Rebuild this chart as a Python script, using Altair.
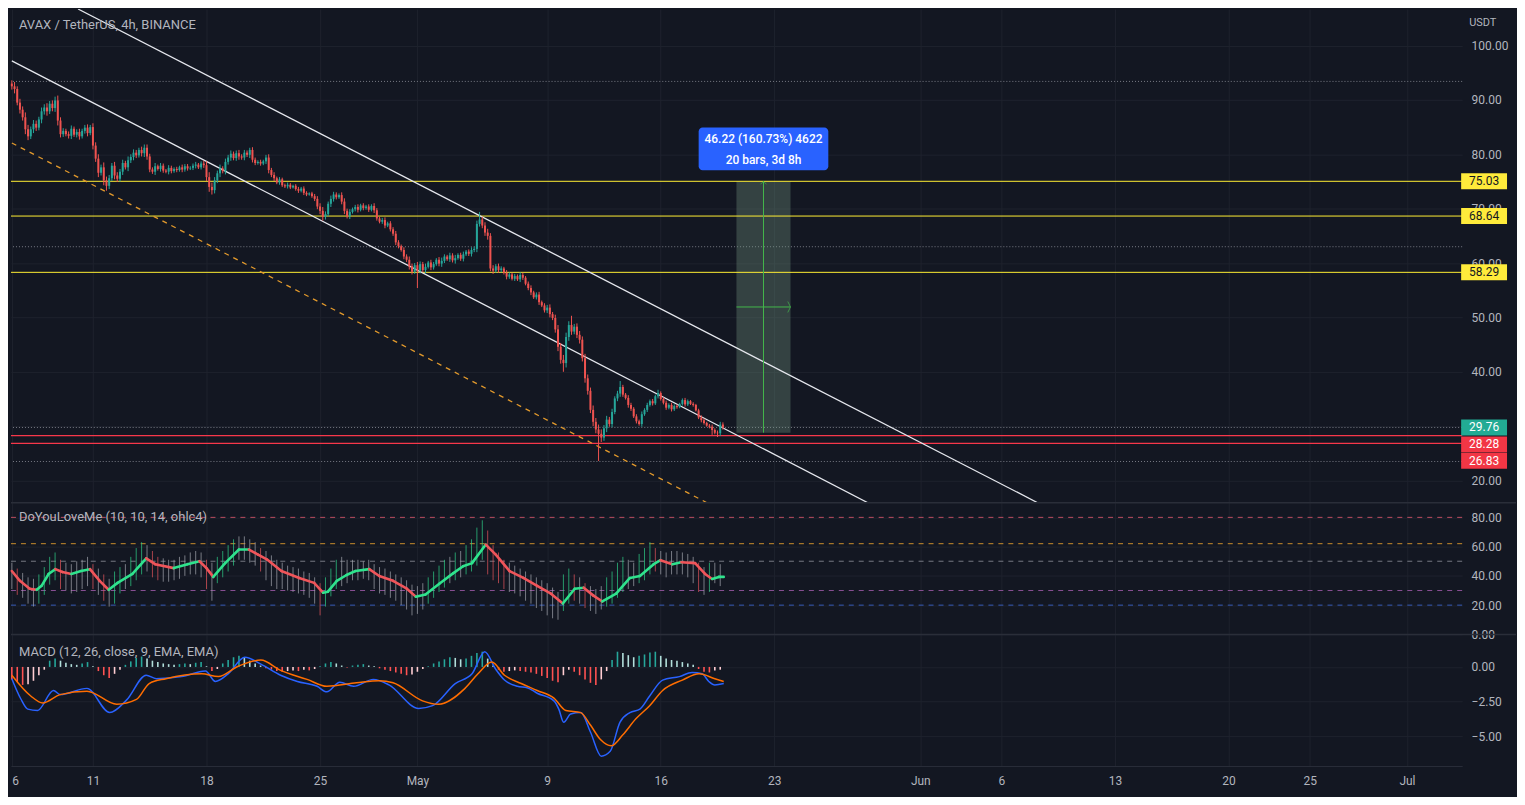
import altair as alt
import pandas as pd
from datetime import datetime, timezone

# ---------------------------------------------------------------- data
# 4h candles of AVAX/USDT starting 2022-04-06 00:00 UTC (closes)
closes = [
    92.5, 92.0, 89.5, 88.2, 86.8, 84.6, 83.3, 84.6, 85.6, 84.9,
    86.4, 87.9, 88.6, 87.9, 89.3, 88.5, 89.9, 86.2, 83.7, 84.3,
    83.7, 83.4, 84.7, 83.6, 84.1, 83.3, 84.3, 84.9, 83.9, 85.0,
    81.6, 79.2, 76.6, 77.6, 75.2, 74.2, 75.6, 77.9, 76.1, 75.5,
    76.8, 78.4, 77.6, 78.9, 79.5, 80.3, 79.8, 80.8, 80.2, 81.2,
    79.6, 77.2, 76.8, 77.8, 77.3, 77.9, 77.0, 76.8, 77.5, 76.9,
    77.3, 77.1, 77.6, 77.2, 77.8, 77.4, 77.5, 77.9, 78.1, 77.6,
    78.3, 78.0, 75.8, 74.0, 73.4, 75.2, 76.5, 77.4, 76.9, 78.6,
    79.4, 80.1, 79.3, 80.2, 79.6, 79.4, 80.3, 79.9, 80.8, 79.0,
    78.4, 78.6, 78.3, 78.7, 79.4, 77.1, 76.2, 75.6, 74.8, 75.4,
    74.3, 74.1, 74.4, 73.9, 74.2, 73.6, 73.3, 73.7, 72.9, 72.6,
    72.8, 72.3, 71.8, 70.4, 69.6, 68.5, 69.0, 70.9, 71.8, 72.6,
    72.1, 72.5, 71.3, 69.6, 68.6, 69.4, 69.9, 70.3, 69.8, 70.6,
    70.1, 70.4, 69.8, 70.5, 69.7, 68.2, 67.6, 67.9, 66.9, 67.3,
    66.2, 65.4, 63.8, 63.1, 62.4, 61.2, 60.6, 59.4, 58.4, 59.6,
    58.6, 59.8, 58.7, 59.3, 60.1, 59.2, 59.8, 60.6, 59.9, 60.4,
    61.2, 60.7, 61.4, 60.5, 60.9, 61.5, 60.8, 61.6, 62.1, 61.7,
    62.4, 62.6, 67.2, 68.0, 66.9, 65.6, 65.0, 59.0, 58.6, 59.4,
    58.7, 59.0, 58.2, 57.5, 57.9, 57.1, 57.6, 57.0, 57.8, 57.3,
    56.2, 55.4, 54.6, 53.7, 54.2, 52.8, 52.2, 51.3, 51.8, 50.6,
    49.9, 47.8, 44.6, 42.2, 41.6, 46.4, 48.6, 47.4, 48.3, 46.8,
    45.9, 42.5, 38.8, 36.5, 33.0, 30.8, 29.4, 28.6, 27.9, 29.6,
    31.2, 30.4, 32.6, 35.1, 36.0, 37.2, 35.8, 35.2, 33.9, 33.2,
    31.8, 30.9, 30.4, 32.2, 33.0, 33.9, 34.6, 34.2, 35.5, 36.1,
    35.0, 34.3, 33.4, 33.9, 33.1, 33.7, 33.5, 34.1, 34.8, 34.0,
    34.6, 34.1, 33.9, 32.9, 31.6, 31.1, 30.6, 30.1, 29.9, 29.3,
    28.8, 28.7, 30.3, 29.76,
]
first_open = 93.0
wicks = [
    .6, .8, .5, .7, .6, .9, .8, .5, .7, .6,
    .5, .7, .6, .8, .5, .6, .7, .9, .6, .5,
    .4, .5, .6, .4, .5, .6, .4, .5, .6, .4,
    .7, .6, .8, .5, .9, .7, .6, .5, .7, .6,
    .5, .6, .4, .7, .5, .6, .5, .4, .6, .7,
    .6, .5, .4, .6, .3, .5, .4, .3, .5, .4,
    .3, .4, .3, .5, .4, .4, .3, .4, .5, .3, .4,
    .5, .7, .9, .8, .6, .5, .7, .4, .6, .5,
    .6, .4, .5, .6, .4, .5, .4, .6, .5, .4,
    .3, .4, .3, .5, .6, .4, .5, .3, .4, .3,
    .3, .4, .3, .2, .3, .4, .3, .4, .3, .2,
    .3, .4, .5, .6, .7, .5, .4, .6, .5, .4,
    .3, .5, .6, .4, .5, .3, .4, .5, .3, .4,
    .3, .4, .3, .5, .4, .3, .4, .5, .3, .4,
    .4, .5, .4, .3, .5, .4, .6, .5, .4, .6,
    .5, .4, .6, .3, .5, .4, .3, .5, .6, .4,
    .3, .5, .4, .6, .3, .4, .5, .3, .4, .5,
    .4, .6, .5, .5, .6, .7, .5, .6, .4, .5,
    .4, .3, .5, .4, .3, .4, .3, .5, .4, .3,
    .4, .5, .3, .4, .5, .3, .4, .5, .6, .4,
    .6, .8, .7, .9, .8, .7, .6, .5, .6, .7,
    .6, .8, .7, .6, .8, .7, .9, .8, .6, .7,
    .5, .6, .4, .5, .6, .4, .3, .5, .4, .3,
    .4, .3, .5, .3, .4, .3, .4, .3, .4, .3,
    .3, .4, .3, .4, .3, .3, .2, .3, .4, .3, .2,
    .3, .2, .3, .4, .3, .2, .3, .4, .3, .4,
    .5, .4,
]
high_extremes = {16: 90.6, 49: 81.8, 88: 81.2, 173: 69.4, 207: 50.3, 225: 38.3, 239: 36.7}
low_extremes = {6: 82.6, 35: 73.3, 74: 72.6, 116: 68.0, 150: 55.4, 204: 40.0, 217: 23.6,
                259: 28.4, 261: 28.0}

# horizontal drawings
yellow_levels = [75.03, 68.64, 58.29]
red_levels = [28.28, 26.83]
dotted_levels = [93.4, 63.0, 29.76, 23.5]
last_price = 29.76

# trend lines: (bar, price) -> (bar, price)
white_lines = [(24.5, 106.71, 379.4, 15.92), (0.0, 97.18, 316.6, 15.92)]
orange_line = [(0.0, 82.08, 257.1, 15.92)]

# long position tool
pos_entry, pos_target = 28.81, 75.03
pos_start, pos_end = 268, 288
pos_text1 = "46.22 (160.73%) 4622"
pos_text2 = "20 bars, 3d 8h"

# DoYouLoveMe oscillator
osc_bars_hi = [
    49, 45, 42, 39, 38, 41, 46, 53, 56, 51, 49, 48, 50, 51, 53, 48, 45, 41, 38, 43,
    46, 48, 53, 59, 63, 61, 57, 53, 52, 51, 51, 53, 54, 56, 57, 56, 51, 49, 53, 57,
    61, 65, 67, 67, 65, 63, 59, 57, 54, 51, 49, 47, 46, 45, 43, 42, 39, 35, 39, 45,
    51, 53, 51, 51, 51, 50, 51, 48, 46, 45, 43, 41, 39, 37, 34, 33, 35, 39, 43, 47,
    51, 53, 56, 57, 61, 65, 73, 78, 71, 61, 56, 51, 49, 47, 45, 43, 41, 39, 37, 35,
    32, 29, 41, 45, 41, 39, 35, 33, 31, 33, 39, 43, 49, 53, 51, 49, 55, 59, 63, 59,
    57, 56, 57, 57, 56, 55, 53, 49, 46, 49, 49, 48,
]
osc_bars_lo = [
    31, 27, 25, 21, 19, 21, 27, 34, 37, 31, 30, 28, 29, 31, 33, 31, 27, 23, 19, 21,
    28, 31, 33, 37, 41, 43, 39, 37, 36, 36, 37, 38, 40, 41, 41, 39, 31, 23, 35, 39,
    43, 47, 51, 51, 49, 47, 43, 37, 33, 31, 31, 30, 29, 28, 27, 25, 21, 13, 19, 26,
    31, 33, 35, 37, 37, 38, 37, 31, 28, 27, 25, 23, 20, 17, 13, 14, 17, 21, 25, 29,
    32, 35, 37, 39, 41, 43, 47, 51, 41, 37, 35, 31, 29, 28, 26, 23, 21, 18, 16, 13,
    11, 10, 16, 21, 23, 21, 18, 16, 14, 17, 19, 21, 25, 29, 31, 33, 35, 37, 41, 43,
    41, 39, 41, 41, 41, 39, 35, 29, 27, 29, 35, 33,
]
osc_line_bar = [0, 3.0, 6.6, 9.2, 11.0, 13.6, 16.1, 18.7, 22.0, 25.6, 28.9, 32.5, 35.8, 39.1,
                44.6, 49.7, 53.0, 59.9, 65.0, 69.4, 72.0, 74.5, 78.9, 84.0, 87.7, 90.9, 94.3,
                99.7, 106.3, 111.8, 115.1, 116.9, 120.2, 123.8, 127.1, 132.2, 135.9, 141.0,
                146.1, 149.4, 153.0, 158.1, 163.3, 166.9, 170.2, 175.3, 178.9, 184.1, 189.2,
                194.3, 199.4, 203.8, 208.2, 211.5, 215.1, 218.4, 223.5, 228.6, 232.3, 237.4,
                239.9, 244.3, 247.6, 252.7, 256.4, 259.0, 261.5, 263.3]
osc_line_val = [43.3, 36.6, 31.2, 30.5, 33.2, 41.3, 44.6, 42.6, 41.3, 43.3, 44.6, 36.6, 30.5,
                35.2, 41.3, 52.0, 48.0, 45.3, 48.0, 50.0, 45.3, 39.3, 48.7, 58.0, 58.0, 54.7,
                51.3, 43.3, 38.6, 35.2, 28.5, 29.2, 36.6, 40.6, 43.3, 44.6, 39.9, 36.6, 31.2,
                25.8, 27.2, 34.6, 41.9, 46.6, 48.7, 61.4, 54.7, 43.3, 38.6, 33.2, 27.8, 21.1,
                31.2, 31.9, 26.5, 22.5, 27.8, 38.6, 39.9, 48.0, 50.7, 48.0, 49.3, 48.7, 41.3,
                37.9, 39.3, 39.3]
osc_levels = [80, 62, 50, 30, 20]
osc_level_colors = ["#d9576a", "#e9a22e", "#878a93", "#9c58a6", "#3c66d2"]

# MACD (12, 26, close, 9)
macd_bar = [0, 3.3, 5.9, 9.5, 15.4, 17.9, 27.8, 36.2, 42.4, 49.7, 53.4, 62.8, 71.6, 75.3, 80.0,
            86.2, 92.1, 99.4, 105.6, 112.9, 116.5, 121.3, 126.4, 133.7, 139.5, 150.5, 155.6,
            164.0, 170.2, 174.9, 178.9, 182.2, 187.0, 190.6, 194.3, 200.5, 202.3, 204.1, 206.7,
            210.4, 214.0, 218.0, 221.3, 224.9, 228.6, 232.3, 235.9, 240.7, 246.9, 251.6, 255.3,
            257.8, 260.0, 263.3]
macd_val = [-0.85, -2.3, -3.05, -3.15, -1.7, -2.0, -1.55, -3.3, -2.4, -0.6, -0.85, -0.7, -0.3,
            -1.05, -0.5, 0.7, 0.2, -0.6, -1.05, -1.4, -1.8, -1.1, -1.4, -0.9, -1.3, -3.0, -2.8,
            -1.2, -0.5, 1.1, -0.15, -0.95, -1.4, -1.5, -1.9, -2.45, -3.05, -4.0, -3.4, -3.3,
            -4.7, -6.45, -6.1, -4.0, -3.3, -3.05, -2.1, -0.95, -0.7, -0.4, -0.5, -1.05, -1.3,
            -1.2]
signal_bar = [0, 7.0, 11.4, 17.9, 27.8, 38.8, 46.1, 50.8, 57.0, 70.2, 76.4, 83.7, 92.1, 99.4,
              109.2, 116.5, 127.5, 135.9, 141.0, 151.9, 157.8, 167.6, 172.4, 177.5, 182.2, 188.4,
              194.3, 200.5, 204.9, 210.4, 214.0, 217.7, 221.7, 226.0, 230.8, 235.9, 240.7, 248.0,
              254.2, 260.0, 263.3]
signal_val = [-0.6, -2.1, -2.6, -2.0, -1.75, -2.7, -2.35, -1.2, -0.85, -0.5, -0.7, 0.05, 0.5,
              -0.25, -0.9, -1.4, -1.15, -1.0, -1.15, -2.45, -2.7, -1.55, -0.5, 0.35, -0.6, -1.2,
              -1.7, -2.25, -3.15, -3.3, -4.2, -5.25, -5.7, -4.9, -3.75, -2.8, -1.7, -0.95, -0.5,
              -0.85, -1.05]
hist = [
    -0.9, -1.1, -1.3, -1.25, -1.0, -0.6, -0.2, 0.45, 0.6, 0.45,
    0.3, 0.2, 0.15, 0.25, 0.35, 0.05, -0.3, -0.6, -0.8, -0.5,
    -0.2, 0.15, 0.4, 0.65, 0.75, 0.6, 0.45, 0.35, 0.25, 0.2,
    0.15, 0.2, 0.25, 0.2, 0.3, 0.35, 0.05, -0.3, -0.15, 0.25,
    0.5, 0.7, 0.8, 0.7, 0.45, 0.25, 0.1, -0.1, -0.2, -0.3,
    -0.35, -0.3, -0.25, -0.3, -0.2, -0.25, -0.15, 0.05, 0.25, 0.35,
    0.25, 0.1, -0.05, 0.1, 0.15, 0.2, 0.1, 0.05, -0.1, -0.2,
    -0.3, -0.4, -0.5, -0.6, -0.55, -0.35, -0.15, 0.05, 0.25, 0.4,
    0.55, 0.7, 0.65, 0.55, 0.6, 0.8, 1.0, 1.1, 0.6, 0.1,
    -0.2, -0.35, -0.3, -0.25, -0.3, -0.35, -0.4, -0.5, -0.65, -0.8,
    -1.0, -1.1, -0.6, -0.2, -0.35, -0.6, -0.9, -1.15, -1.3, -0.9,
    -0.3, 0.5, 1.1, 1.0, 0.85, 0.7, 0.8, 0.9, 1.05, 1.1,
    0.8, 0.6, 0.5, 0.45, 0.35, 0.25, 0.15, -0.15, -0.35, -0.4,
    -0.25, -0.2,
]

tick_days = ["2022-04-06", "2022-04-11", "2022-04-18", "2022-04-25", "2022-05-01",
             "2022-05-09", "2022-05-16", "2022-05-23", "2022-06-01", "2022-06-06",
             "2022-06-13", "2022-06-20", "2022-06-25", "2022-07-01"]
price_ticks = [20, 30, 40, 50, 60, 70, 80, 90, 100]
osc_ticks = [0, 20, 40, 60, 80]
macd_ticks = [0, -2.5, -5]

assert len(closes) == 264 and len(wicks) == 264
assert len(osc_bars_hi) == len(osc_bars_lo) == len(hist) == 132
assert len(osc_line_bar) == len(osc_line_val)
assert len(macd_bar) == len(macd_val) and len(signal_bar) == len(signal_val)

# ---------------------------------------------------------------- style
BG = "#131722"
GRID = "#1e222d"
SEP = "#2a2e39"
TXT = "#b2b5be"
FONT = "Roboto"
UP, DN = "#26a69a", "#ef5350"

W = 1455
H1, H2, H3, AXH = 495, 132, 132, 30
RIGHT = 54

T0 = int(datetime(2022, 4, 6, tzinfo=timezone.utc).timestamp() * 1000)
BAR = 4 * 3600 * 1000


def T(b):
    return T0 + b * BAR


def day_ms(s):
    return int(datetime.fromisoformat(s).replace(tzinfo=timezone.utc).timestamp() * 1000)


ticks_ms = [day_ms(d) for d in tick_days]
xscale = alt.Scale(type="utc", domain=[T(-0.31), T(536.4)])

xaxis_top = alt.Axis(values=ticks_ms, grid=True, gridColor=GRID, labels=False, ticks=False,
                     domain=False, title=None, minExtent=0, maxExtent=0)
xaxis_bottom = alt.Axis(values=ticks_ms, grid=True, gridColor=GRID, ticks=False, domain=True,
                        domainColor=SEP, title=None, labelColor=TXT, labelFont=FONT,
                        labelFontSize=12, labelPadding=10, labelFlush=2,
                        labelExpr="utcdate(datum.value) == 1 ? utcFormat(datum.value, '%b') : '' + utcdate(datum.value)",
                        minExtent=AXH, maxExtent=AXH)


def yaxis(vals):
    return alt.Axis(orient="right", values=vals, format=".2f", grid=True, gridColor=GRID,
                    domain=False, ticks=False, labelPadding=9, labelColor=TXT, labelFont=FONT,
                    labelFontSize=12, title=None, minExtent=RIGHT, maxExtent=RIGHT,
                    labelFlush=False)


ys1 = alt.Scale(domain=[15.92, 106.71], nice=False, zero=False)
ys2 = alt.Scale(domain=[0, 90], nice=False, zero=False)
ys3 = alt.Scale(domain=[-7.16, 2.35], nice=False, zero=False)
ya1, ya2, ya3 = yaxis(price_ticks), yaxis(osc_ticks), yaxis(macd_ticks)


def X(field, axis):
    return alt.X(f"{field}:T", scale=xscale, axis=axis, title=None)


def Y(field, scale, axis):
    return alt.Y(f"{field}:Q", scale=scale, axis=axis, title=None)


def label(text, x, y, size=13, color=TXT, align="left", weight="normal"):
    return alt.Chart(pd.DataFrame({"s": [text]})).mark_text(
        align=align, baseline="middle", font=FONT, fontSize=size, color=color,
        fontWeight=weight).encode(text="s:N", x=alt.value(x), y=alt.value(y))


# ---------------------------------------------------------------- price panel
opens = [first_open] + closes[:-1]
rows = []
for i, (o, c) in enumerate(zip(opens, closes)):
    hi = high_extremes.get(i, max(o, c) + wicks[i])
    lo = low_extremes.get(i, min(o, c) - wicks[i])
    rows.append({"t": T(i), "o": o, "c": c, "h": hi, "l": lo, "col": UP if c >= o else DN})
cdf = pd.DataFrame(rows)

XA = xaxis_top
layers1 = []

dots = pd.DataFrame({"p": dotted_levels})
layers1.append(alt.Chart(dots).mark_rule(color="#787b86", strokeDash=[1, 2], strokeWidth=1)
               .encode(y=Y("p", ys1, ya1)))

box = pd.DataFrame({"t1": [T(pos_start)], "t2": [T(pos_end)], "a": [pos_entry], "b": [pos_target],
                    "tm": [T((pos_start + pos_end) / 2)], "mid": [(pos_entry + pos_target) / 2]})
layers1.append(alt.Chart(box).mark_rect(color="#6f8f7c", opacity=0.36)
               .encode(x=X("t1", XA), x2="t2:T", y=Y("a", ys1, ya1), y2="b:Q"))

ylw = pd.DataFrame({"p": yellow_levels})
layers1.append(alt.Chart(ylw).mark_rule(color="#ffee33", strokeWidth=1).encode(y=Y("p", ys1, ya1)))
red = pd.DataFrame({"p": red_levels})
layers1.append(alt.Chart(red).mark_rule(color="#f7374a", strokeWidth=1.3).encode(y=Y("p", ys1, ya1)))

wl = pd.DataFrame([{"t": T(a), "p": b, "t2": T(c), "p2": d} for a, b, c, d in white_lines])
layers1.append(alt.Chart(wl).mark_rule(color="#e6e8ee", strokeWidth=1.3, clip=True)
               .encode(x=X("t", XA), x2="t2:T", y=Y("p", ys1, ya1), y2="p2:Q"))
ol = pd.DataFrame([{"t": T(a), "p": b, "t2": T(c), "p2": d} for a, b, c, d in orange_line])
layers1.append(alt.Chart(ol).mark_rule(color="#e39a2c", strokeWidth=1.3, strokeDash=[5, 5], clip=True)
               .encode(x=X("t", XA), x2="t2:T", y=Y("p", ys1, ya1), y2="p2:Q"))

layers1.append(alt.Chart(cdf).mark_rule(strokeWidth=1)
               .encode(x=X("t", XA), y=Y("l", ys1, ya1), y2="h:Q", color=alt.Color("col:N", scale=None)))
layers1.append(alt.Chart(cdf).mark_rule(strokeWidth=2)
               .encode(x=X("t", XA), y=Y("o", ys1, ya1), y2="c:Q", color=alt.Color("col:N", scale=None)))

GREEN = "#43b74a"
layers1.append(alt.Chart(box).mark_rule(color=GREEN, strokeWidth=1)
               .encode(x=X("tm", XA), y=Y("a", ys1, ya1), y2="b:Q"))
layers1.append(alt.Chart(box).mark_rule(color=GREEN, strokeWidth=1)
               .encode(x=X("t1", XA), x2="t2:T", y=Y("mid", ys1, ya1)))
layers1.append(alt.Chart(box).mark_point(shape="M-1,1L0,0L1,1", size=36, filled=False,
                                         color=GREEN, strokeWidth=1)
               .encode(x=X("tm", XA), y=Y("b", ys1, ya1)))
layers1.append(alt.Chart(box).mark_point(shape="M-1,-2L0,0L-1,2", size=30, filled=False,
                                         color=GREEN, strokeWidth=1)
               .encode(x=X("t2", XA), y=Y("mid", ys1, ya1)))
layers1.append(alt.Chart(box).mark_rect(color="#2962ff", cornerRadius=4, xOffset=-65, x2Offset=65,
                                        yOffset=-54, y2Offset=-11)
               .encode(x=X("tm", XA), x2="tm:T", y=Y("b", ys1, ya1), y2="b:Q"))
for txt, dy in [(pos_text1, -42), (pos_text2, -21.5)]:
    tdf = box.assign(s=txt)
    layers1.append(alt.Chart(tdf).mark_text(color="white", font=FONT, fontSize=12, fontWeight=500,
                                            dy=dy, baseline="middle", align="center")
                   .encode(x=X("tm", XA), y=Y("b", ys1, ya1), text="s:N"))

# price tags on the axis
tags = [(75.03, "#ffeb3b", "#131722", 0), (68.64, "#ffeb3b", "#131722", 0),
        (58.29, "#ffeb3b", "#131722", 0), (last_price, "#22ab94", "white", 0),
        (28.28, "#f23645", "white", 9), (26.83, "#f23645", "white", 17.5)]
for p, bgc, fg, off in tags:
    tdf = pd.DataFrame({"p": [p], "s": [f"{p:.2f}"]})
    layers1.append(alt.Chart(tdf).mark_rule(color=bgc, strokeWidth=16, yOffset=off)
                   .encode(x=alt.value(W - 1), x2=alt.value(W + 45), y=Y("p", ys1, ya1)))
    layers1.append(alt.Chart(tdf).mark_text(color=fg, font=FONT, fontSize=12, align="center",
                                            baseline="middle", dy=off)
                   .encode(x=alt.value(W + 22), y=Y("p", ys1, ya1), text="s:N"))

layers1.append(label("AVAX / TetherUS, 4h, BINANCE", 8, 16, size=13))
layers1.append(label("USDT", W + 7, 14, size=11))
panel1 = alt.layer(*layers1).properties(width=W, height=H1)

# ---------------------------------------------------------------- oscillator panel
layers2 = []
lv = pd.DataFrame({"v": osc_levels, "col": osc_level_colors})
layers2.append(alt.Chart(lv).mark_rule(strokeDash=[5, 5], strokeWidth=1, opacity=0.85)
               .encode(y=Y("v", ys2, ya2), color=alt.Color("col:N", scale=None)))
ob = []
for k, (hi, lo) in enumerate(zip(osc_bars_hi, osc_bars_lo)):
    prev = osc_bars_hi[k - 1] if k else hi
    col = "#2fd38a" if hi > prev + 2 else ("#e8565c" if hi < prev - 3 else "#a3a6af")
    ob.append({"t": T(2 * k), "hi": hi, "lo": lo, "col": col})
layers2.append(alt.Chart(pd.DataFrame(ob)).mark_rule(strokeWidth=1, opacity=0.7)
               .encode(x=X("t", XA), y=Y("lo", ys2, ya2), y2="hi:Q", color=alt.Color("col:N", scale=None)))
segs = []
for i in range(len(osc_line_bar) - 1):
    v1, v2 = osc_line_val[i], osc_line_val[i + 1]
    segs.append({"t": T(osc_line_bar[i]), "v": v1, "t2": T(osc_line_bar[i + 1]), "v2": v2,
                 "col": "#2fe38d" if v2 >= v1 else "#f0555a"})
layers2.append(alt.Chart(pd.DataFrame(segs)).mark_rule(strokeWidth=2.6, strokeCap="round")
               .encode(x=X("t", XA), x2="t2:T", y=Y("v", ys2, ya2), y2="v2:Q",
                       color=alt.Color("col:N", scale=None)))
layers2.append(alt.Chart(pd.DataFrame({"a": [0]})).mark_rule(color=SEP, strokeWidth=1.5)
               .encode(x=alt.value(0), x2=alt.value(W + RIGHT), y=alt.value(0)))
layers2.append(label("DoYouLoveMe (10, 10, 14, ohlc4)", 8, 14, size=13))
panel2 = alt.layer(*layers2).properties(width=W, height=H2)

# ---------------------------------------------------------------- MACD panel
XB = xaxis_bottom
layers3 = []
hrows = []
for k, h in enumerate(hist):
    prev = hist[k - 1] if k else h
    if h >= 0:
        col = "#26a69a" if h >= prev else "#b2dfdb"
    else:
        col = "#ff5252" if h <= prev else "#ffcdd2"
    hrows.append({"t": T(2 * k), "h": h, "z": 0.0, "col": col})
layers3.append(alt.Chart(pd.DataFrame(hrows)).mark_rule(strokeWidth=1.6)
               .encode(x=X("t", XB), y=Y("z", ys3, ya3), y2="h:Q", color=alt.Color("col:N", scale=None)))
mdf = pd.DataFrame({"t": [T(b) for b in macd_bar], "v": macd_val})
sdf = pd.DataFrame({"t": [T(b) for b in signal_bar], "v": signal_val})
layers3.append(alt.Chart(mdf).mark_line(color="#2962ff", strokeWidth=1.5, interpolate="monotone")
               .encode(x=X("t", XB), y=Y("v", ys3, ya3)))
layers3.append(alt.Chart(sdf).mark_line(color="#ff6d00", strokeWidth=1.5, interpolate="monotone")
               .encode(x=X("t", XB), y=Y("v", ys3, ya3)))
layers3.append(alt.Chart(pd.DataFrame({"a": [0]})).mark_rule(color=SEP, strokeWidth=1.5)
               .encode(x=alt.value(0), x2=alt.value(W + RIGHT), y=alt.value(0)))
layers3.append(alt.Chart(pd.DataFrame({"a": [0]})).mark_rule(color=BG, strokeWidth=1)
               .encode(x=alt.value(0), x2=alt.value(W + RIGHT), y=alt.value(H3 + AXH - 0.5)))
layers3.append(label("MACD (12, 26, close, 9, EMA, EMA)", 8, 18, size=13))
panel3 = alt.layer(*layers3).properties(width=W, height=H3)

chart = (alt.vconcat(panel1, panel2, panel3, spacing=0, bounds="flush")
         .resolve_scale(x="independent", y="independent")
         .properties(padding=0, background=BG)
         .configure_view(stroke=None))

chart.save("out.html", embed_options={"renderer": "svg", "actions": False})
